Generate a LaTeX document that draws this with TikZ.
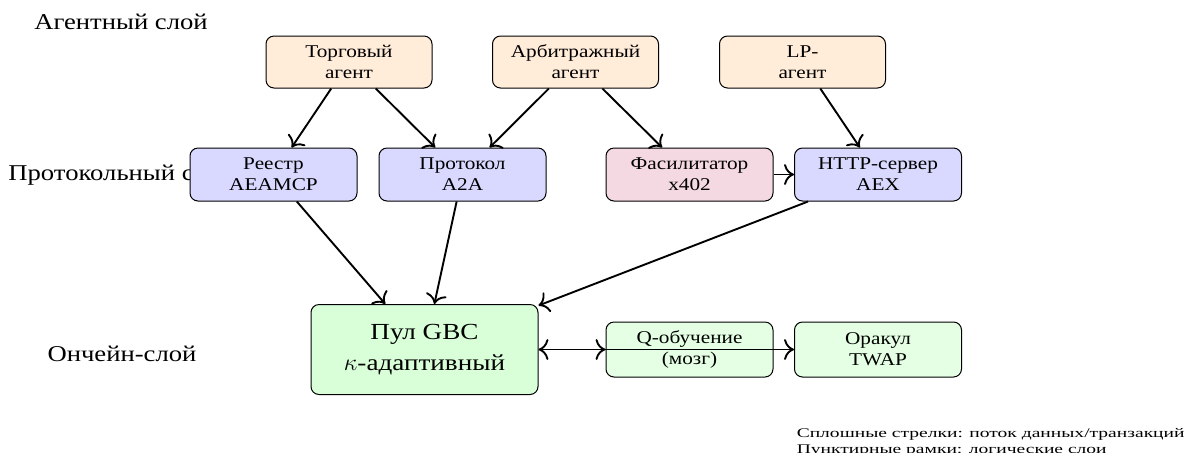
\documentclass[tikz,border=0pt]{standalone}
\usepackage{fontspec}
\usetikzlibrary{arrows.meta}
\setmainfont{Liberation Serif}[FakeStretch=1.18]
\newfontfamily\legendfont{Liberation Serif}[FakeStretch=1.48]
\begin{document}
\begin{tikzpicture}[x=0.5pt,y=-0.5pt,
  >={To[scale=1.35]},
  box/.style={draw=black, line width=0.5pt, rounded corners=4pt, align=center, inner sep=0pt,
    font=\fontsize{9}{10.5}\selectfont},
  agent/.style={box, fill=orange!15, minimum width=83pt, minimum height=26pt},
  proto/.style={box, fill=blue!15, minimum width=83.5pt, minimum height=26.5pt},
  facil/.style={box, fill=purple!15, minimum width=83.5pt, minimum height=26.5pt},
  chain/.style={box, fill=green!10, minimum width=83.5pt, minimum height=27.5pt},
  poolbox/.style={box, fill=green!15, minimum width=113.5pt, minimum height=45pt,
    font=\fontsize{11.5}{15.5}\selectfont},
  layer/.style={font=\fontsize{11.3}{13}\selectfont, inner sep=0pt},
  arr/.style={->, line width=0.95pt},
  darr/.style={<->, line width=0.95pt}]
\useasboundingbox (0,0) rectangle (1185,452);

% layer labels
\node[layer] (lagent) at (121,22) {Агентный слой};
\node[layer, anchor=west] (lproto) at (8,175) {Протокольный слой};
\node[layer] (lchain) at (122,354) {Ончейн-слой};

% agent layer
\node[agent] (trade) at (349,62) {Торговый\\агент};
\node[agent] (arb) at (575.5,62) {Арбитражный\\агент};
\node[agent] (lp) at (802.5,62) {LP-\\агент};

% protocol layer
\node[proto] (reg) at (273.5,174.5) {Реестр\\AEAMCP};
\node[proto] (a2a) at (462.5,174.5) {Протокол\\A2A};
\node[facil] (fac) at (689.5,174.5) {Фасилитатор\\x402};
\node[proto] (http) at (878,174.5) {HTTP-сервер\\AEX};

% on-chain layer
\node[poolbox] (pool) at (424.5,349.5) {Пул GBC\\$\kappa$-адаптивный};
\node[chain] (q) at (689.5,349.5) {Q-обучение\\(мозг)};
\node[chain] (oracle) at (878,349.5) {Оракул\\TWAP};

% connectors
\draw[arr] (trade) -- (reg);
\draw[arr] (trade) -- (a2a);
\draw[arr] (arb) -- (a2a);
\draw[arr] (arb) -- (fac);
\draw[arr] (lp) -- (http);
\draw[arr] (fac) -- (http);
\draw[arr] (reg) -- (pool);
\draw[arr] (a2a) -- (pool);
\draw[arr] (http) -- (pool);
\draw[darr] (pool) -- (q);
\draw[arr] (pool) -- (oracle);

% legend
\node[anchor=north east, align=left, inner sep=0pt,
  font=\legendfont\fontsize{6.6}{8}\selectfont] (legend) at (1185,428.5)
  {Сплошные стрелки: поток данных/транзакций\\Пунктирные рамки: логические слои};
\end{tikzpicture}
\end{document}
